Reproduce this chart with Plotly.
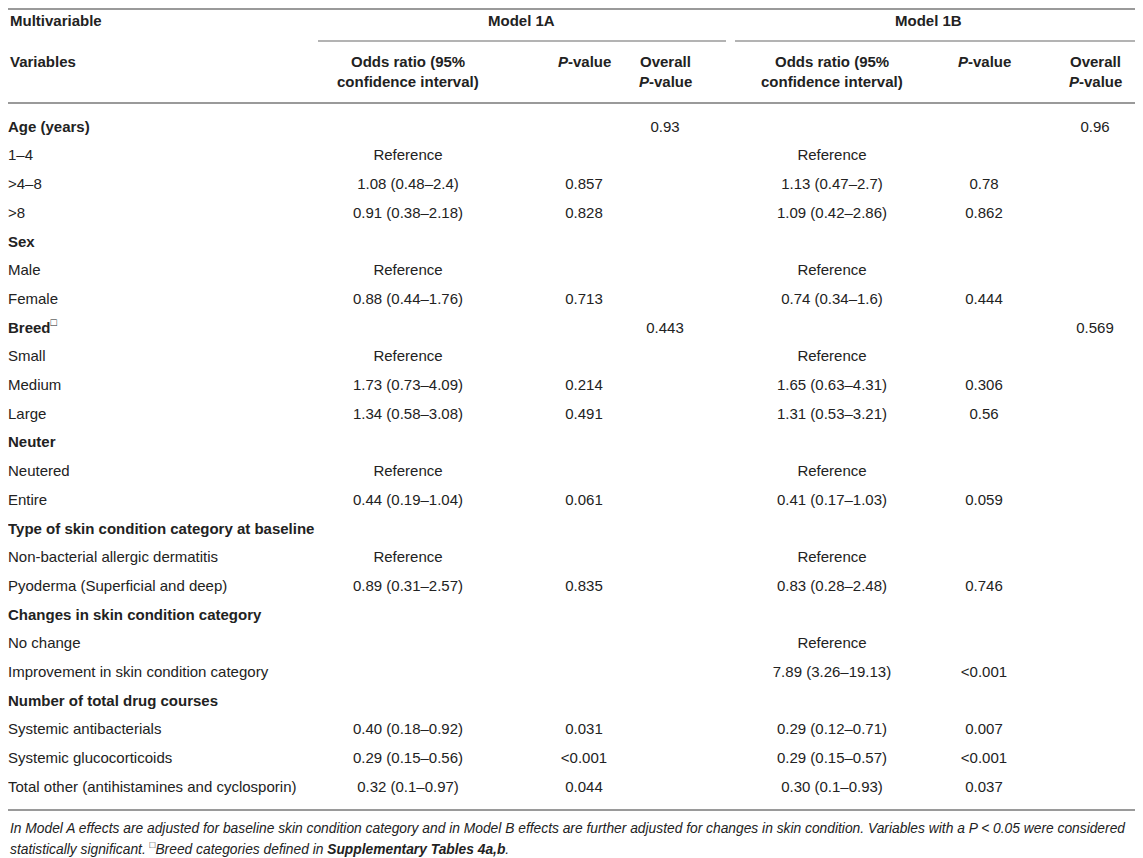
import plotly.graph_objects as go

# 表の中身
variables = [
    "Age (years)", "1–4", ">4–8", ">8",
    "Sex", "Male", "Female",
    "Breed", "Small", "Medium", "Large",
    "Neuter", "Neutered", "Entire",
    "Type of skin condition category at baseline",
    "Non-bacterial allergic dermatitis", "Pyoderma (Superficial and deep)",
    "Changes in skin condition category",
    "No change", "Improvement in skin condition category",
    "Number of total drug courses",
    "Systemic antibacterials", "Systemic glucocorticoids",
    "Total other (antihistamines and cyclosporin)",
]
is_group = [True, False, False, False, True, False, False, True, False, False, False,
            True, False, False, True, False, False, True, False, False, True,
            False, False, False]

or_1a = ["", "Reference", "1.08 (0.48–2.4)", "0.91 (0.38–2.18)",
         "", "Reference", "0.88 (0.44–1.76)",
         "", "Reference", "1.73 (0.73–4.09)", "1.34 (0.58–3.08)",
         "", "Reference", "0.44 (0.19–1.04)",
         "", "Reference", "0.89 (0.31–2.57)",
         "", "", "",
         "", "0.40 (0.18–0.92)", "0.29 (0.15–0.56)", "0.32 (0.1–0.97)"]
p_1a = ["", "", "0.857", "0.828",
        "", "", "0.713",
        "", "", "0.214", "0.491",
        "", "", "0.061",
        "", "", "0.835",
        "", "", "",
        "", "0.031", "<0.001", "0.044"]
overall_1a = ["0.93", "", "", "", "", "", "", "0.443", "", "", "", "", "", "",
              "", "", "", "", "", "", "", "", "", ""]

or_1b = ["", "Reference", "1.13 (0.47–2.7)", "1.09 (0.42–2.86)",
         "", "Reference", "0.74 (0.34–1.6)",
         "", "Reference", "1.65 (0.63–4.31)", "1.31 (0.53–3.21)",
         "", "Reference", "0.41 (0.17–1.03)",
         "", "Reference", "0.83 (0.28–2.48)",
         "", "Reference", "7.89 (3.26–19.13)",
         "", "0.29 (0.12–0.71)", "0.29 (0.15–0.57)", "0.30 (0.1–0.93)"]
p_1b = ["", "", "0.78", "0.862",
        "", "", "0.444",
        "", "", "0.306", "0.56",
        "", "", "0.059",
        "", "", "0.746",
        "", "", "<0.001",
        "", "0.007", "<0.001", "0.037"]
overall_1b = ["0.96", "", "", "", "", "", "", "0.569", "", "", "", "", "", "",
              "", "", "", "", "", "", "", "", "", ""]

footnote = [
    "In Model A effects are adjusted for baseline skin condition category and in Model B effects "
    "are further adjusted for changes in skin condition. Variables with a P < 0.05 were considered",
    "statistically significant. <sup>□</sup>Breed categories defined in <b>Supplementary Tables 4a,b</b>.",
]

FONT = "Liberation Sans"
TXT = "#222222"
LINE = "#9a9a9a"
W, H = 1143, 858
PAD = 8  # ページ本体の余白分

# 列の位置
col_x = {"var": 8, "or_1a": 408, "p_1a": 584, "ov_1a": 665,
         "or_1b": 832, "p_1b": 984, "ov_1b": 1095}
row0, row_step = 128, 28.7
row_y = [row0 + i * row_step for i in range(len(variables))]


def label(v, g):
    if v == "Breed":
        return "<b>Breed</b><sup>□</sup>"
    return f"<b>{v}</b>" if g else v


fig = go.Figure()

# 変数名の列
fig.add_trace(go.Scatter(
    x=[col_x["var"]] * len(variables), y=row_y, mode="text",
    text=[label(v, g) for v, g in zip(variables, is_group)],
    textposition="middle right",
    textfont=dict(family=FONT, size=15, color=TXT),
    hoverinfo="skip", showlegend=False,
))

# 数値の列
for key, vals in [("or_1a", or_1a), ("p_1a", p_1a), ("ov_1a", overall_1a),
                  ("or_1b", or_1b), ("p_1b", p_1b), ("ov_1b", overall_1b)]:
    fig.add_trace(go.Scatter(
        x=[col_x[key]] * len(vals), y=row_y, mode="text",
        text=vals, textposition="middle center",
        textfont=dict(family=FONT, size=15, color=TXT),
        hoverinfo="skip", showlegend=False,
    ))

# ヘッダー
hdr = dict(family=FONT, size=15, color=TXT)
annotations = [
    dict(x=col_x["var"], y=20, text="<b>Multivariable</b>", xanchor="left"),
    dict(x=521, y=20, text="<b>Model 1A</b>", xanchor="center"),
    dict(x=928, y=20, text="<b>Model 1B</b>", xanchor="center"),
    dict(x=col_x["var"], y=61, text="<b>Variables</b>", xanchor="left"),
]
for k in ["1a", "1b"]:
    annotations += [
        dict(x=col_x["or_" + k], y=61, text="<b>Odds ratio (95%</b>", xanchor="center"),
        dict(x=col_x["or_" + k], y=81, text="<b>confidence interval)</b>", xanchor="center"),
        dict(x=col_x["p_" + k], y=61, text="<b><i>P</i>-value</b>", xanchor="center"),
        dict(x=col_x["ov_" + k], y=61, text="<b>Overall</b>", xanchor="center"),
        dict(x=col_x["ov_" + k], y=81, text="<b><i>P</i>-value</b>", xanchor="center"),
    ]
for a in annotations:
    a.update(xref="x", yref="y", yanchor="middle", showarrow=False, font=hdr)

# 脚注
for i, line in enumerate(footnote):
    annotations.append(dict(
        x=col_x["var"], y=828 + i * 20, xref="x", yref="y", text=f"<i>{line}</i>",
        xanchor="left", yanchor="middle", showarrow=False,
        font=dict(family=FONT, size=13.8, color=TXT),
    ))

# 罫線
shapes = []
for y0, xa, xb in [(PAD + 1, PAD, W), (41, 318, 726), (41, 735, W), (103, PAD, W), (810, PAD, W)]:
    shapes.append(dict(type="line", xref="x", yref="y", x0=xa, x1=xb, y0=y0, y1=y0,
                       line=dict(color=LINE, width=2 if xa == PAD else 1.5)))

fig.update_layout(
    width=W - PAD, height=H - PAD,
    margin=dict(l=0, r=0, t=0, b=0),
    paper_bgcolor="white", plot_bgcolor="white",
    xaxis=dict(range=[PAD, W], visible=False, fixedrange=True),
    yaxis=dict(range=[H, PAD], visible=False, fixedrange=True),
    annotations=annotations, shapes=shapes,
)

fig.write_html("out.html")
